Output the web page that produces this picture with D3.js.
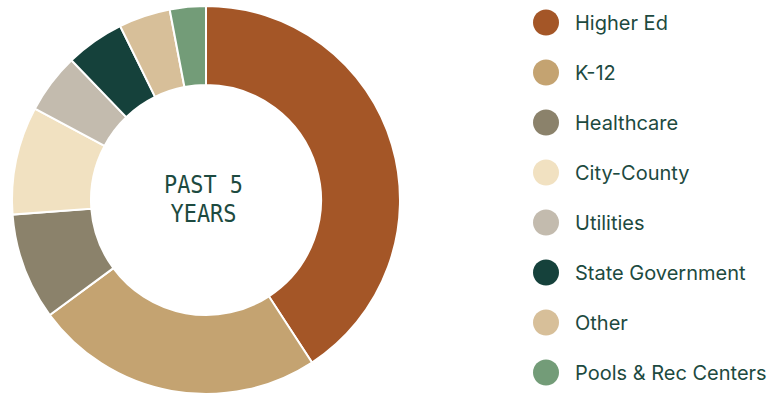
<!DOCTYPE html>
<html>
<head>
<meta charset="utf-8">
<script src="https://cdn.jsdelivr.net/npm/d3@7"></script>
<style>
  html, body { margin: 0; padding: 0; background: #ffffff; }
  svg { display: block; }
</style>
</head>
<body>
<svg id="chart" width="784" height="394"></svg>
<script>
const categories = ["Higher Ed", "K-12", "Healthcare", "City-County", "Utilities", "State Government", "Other", "Pools & Rec Centers"];
const values = [40.8, 24.1, 8.9, 9.0, 5.0, 4.9, 4.3, 3.0];
const colors = ["#A45627", "#C4A371", "#8B826B", "#F1E1C1", "#C3BBAE", "#15413B", "#D7BF99", "#739C78"];
const centerLines = ["PAST 5", "YEARS"];

const data = categories.map((c, i) => ({ name: c, value: values[i], color: colors[i] }));

const svg = d3.select("#chart");
const cx = 206, cy = 200, outerR = 194, innerR = 115;

const pie = d3.pie().value(d => d.value).sort(null);
const arc = d3.arc().innerRadius(innerR).outerRadius(outerR);

const g = svg.append("g").attr("transform", `translate(${cx},${cy})`);
g.selectAll("path")
  .data(pie(data))
  .join("path")
  .attr("d", arc)
  .attr("fill", d => d.data.color)
  .attr("stroke", "#ffffff")
  .attr("stroke-width", 2)
  .attr("stroke-linejoin", "miter");

const textColor = "#1D4A40";
g.selectAll("text.center")
  .data(centerLines)
  .join("text")
  .attr("class", "center")
  .attr("x", -2.5)
  .attr("y", (d, i) => -7 + i * 28.7)
  .attr("text-anchor", "middle")
  .attr("fill", textColor)
  .attr("font-family", "DejaVu Sans Mono, monospace")
  .attr("font-size", 24)
  .attr("textLength", (d, i) => i === 0 ? 79 : 66)
  .attr("lengthAdjust", "spacingAndGlyphs")
  .text(d => d);

const yLegend = d3.scalePoint().domain(categories).range([22.5, 372.5]);
const legend = svg.append("g");
const items = legend.selectAll("g")
  .data(data)
  .join("g")
  .attr("transform", d => `translate(546,${yLegend(d.name)})`);
items.append("circle")
  .attr("r", 13)
  .attr("fill", d => d.color);
items.append("text")
  .attr("x", 29)
  .attr("y", 7)
  .attr("fill", textColor)
  .attr("font-family", "Inter, sans-serif")
  .attr("font-size", 20)
  .text(d => d.name);
</script>
</body>
</html>
